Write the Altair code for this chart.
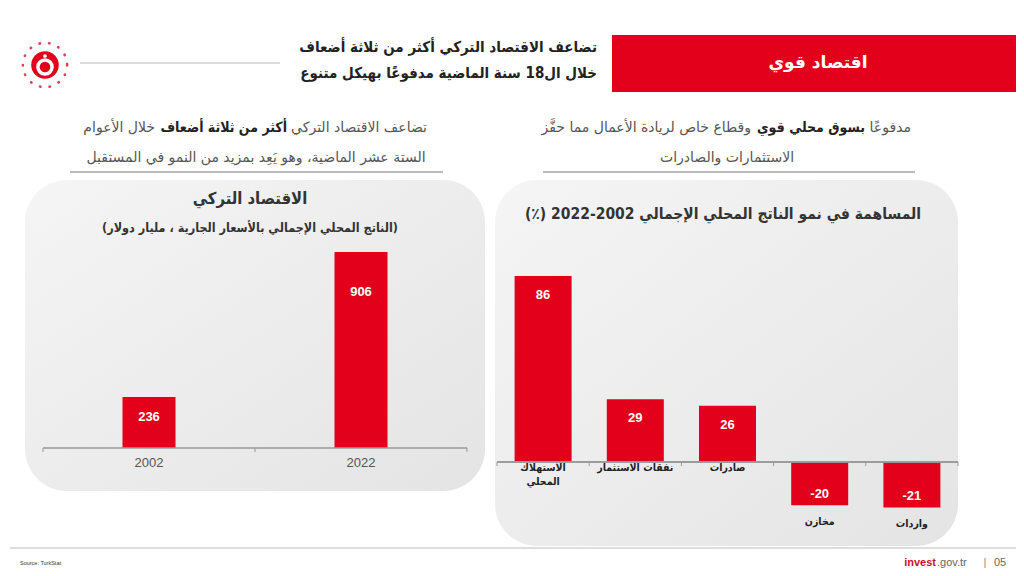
import altair as alt
import pandas as pd

# ---------------- data ----------------
years = ["2002", "2022"]
gdp = [236, 906]

components = ["الاستهلاك\nالمحلي", "نفقات الاستثمار", "صادرات", "مخازن", "واردات"]
contribution = [86, 29, 26, -20, -21]

# ---------------- style ----------------
RED = "#E2001A"
AR = "DejaVu Sans"
ARC = "DejaVu Sans Condensed"
LAT = "Liberation Sans"
W, H = 1008, 560
OX, OY = 8, 8


def P(x):
    return x - OX


def Q(y):
    return y - OY


def rtl(s):
    return "\u202B" + s + "\u202C"


one = pd.DataFrame({"k": [0]})
base = alt.Chart(one)


def rect(x1, y1, x2, y2, **kw):
    return base.mark_rect(**kw).encode(
        x=alt.value(P(x1)), x2=alt.value(P(x2)), y=alt.value(Q(y1)), y2=alt.value(Q(y2))
    )


def rule(x1, y1, x2, y2, **kw):
    return base.mark_rule(**kw).encode(
        x=alt.value(P(x1)), x2=alt.value(P(x2)), y=alt.value(Q(y1)), y2=alt.value(Q(y2))
    )


def text(s, x, y, **kw):
    return base.mark_text(text=s, **kw).encode(x=alt.value(P(x)), y=alt.value(Q(y)))


layers = []

# header
layers.append(rect(612, 35, 1030, 92, color=RED))
layers.append(text(rtl("اقتصاد قوي"), 818, 63, font=AR, fontSize=17, fontWeight="bold", color="white"))
layers.append(text(rtl("تضاعف الاقتصاد التركي أكثر من ثلاثة أضعاف"), 597, 47, align="right",
                   font=ARC, fontSize=15, fontWeight="bold", color="#222"))
layers.append(text(rtl("خلال ال18 سنة الماضية مدفوعًا بهيكل متنوع"), 597, 73, align="right",
                   font=ARC, fontSize=15, fontWeight="bold", color="#222"))
layers.append(rule(80, 63, 280, 63, color="#bbbbbb", strokeWidth=1.2))

# logo
layers.append(base.mark_point(shape="circle", filled=False, size=1960, stroke="#e04050",
                              strokeWidth=2.6, strokeDash=[0.5, 9.3], strokeCap="round", opacity=1)
              .encode(x=alt.value(P(45)), y=alt.value(Q(65))))
layers.append(base.mark_point(shape="circle", filled=True, size=760, color=RED, opacity=1)
              .encode(x=alt.value(P(45)), y=alt.value(Q(65))))
layers.append(base.mark_point(shape="circle", filled=False, size=200, stroke="white",
                              strokeWidth=3.5, opacity=1)
              .encode(x=alt.value(P(45)), y=alt.value(Q(67))))
layers.append(base.mark_point(shape="circle", filled=True, size=14, color="white", opacity=1)
              .encode(x=alt.value(P(45)), y=alt.value(Q(56))))

# subtitles left (pieces chained right-to-left)
layers.append(text(rtl("تضاعف الاقتصاد التركي"), 427, 128, align="right", font=AR, fontSize=14, color="#555"))
layers.append(text(rtl("أكثر من ثلاثة أضعاف"), 287, 128, align="right", font=ARC, fontSize=14,
                   fontWeight="bold", color="#222"))
layers.append(text(rtl("خلال الأعوام"), 155, 128, align="right", font=AR, fontSize=14, color="#555"))
layers.append(text(rtl("الستة عشر الماضية، وهو يَعِد بمزيد من النمو في المستقبل"), 256, 158,
                   font=AR, fontSize=14, color="#555"))
layers.append(rule(70, 172, 443, 172, color="#777", strokeWidth=1))

# subtitles right
layers.append(text(rtl("مدفوعًا"), 911, 128, align="right", font=AR, fontSize=14, color="#555"))
layers.append(text(rtl("بسوق محلي قوي"), 865, 128, align="right", font=ARC, fontSize=14,
                   fontWeight="bold", color="#222"))
layers.append(text(rtl("وقطاع خاص لريادة الأعمال مما حفَّز"), 751, 128, align="right", font=AR,
                   fontSize=14, color="#555"))
layers.append(text(rtl("الاستثمارات والصادرات"), 727, 158, font=AR, fontSize=14, color="#555"))
layers.append(rule(543, 172, 915, 172, color="#777", strokeWidth=1))

# panels
grad = alt.Gradient(
    gradient="linear",
    stops=[alt.GradientStop(color="#f5f5f5", offset=0), alt.GradientStop(color="#e4e4e4", offset=1)],
    x1=0, y1=0, x2=1, y2=1,
)
layers.append(rect(25, 180, 485, 491, cornerRadius=42, fill=grad))
layers.append(rect(495, 180, 958, 546, cornerRadius=42, fill=grad))

# panel titles
layers.append(text(rtl("الاقتصاد التركي"), 250, 199, font=ARC, fontSize=16.5, fontWeight="bold", color="#333"))
layers.append(text(rtl("(الناتج المحلي الإجمالي بالأسعار الجارية ، مليار دولار)"), 250, 228,
                   font=ARC, fontSize=12.5, fontWeight="bold", color="#333"))
layers.append(text(rtl("المساهمة في نمو الناتج المحلي الإجمالي 2002-2022 (٪)"), 723, 214,
                   font=ARC, fontSize=15.5, fontWeight="bold", color="#333"))

# ---------------- left chart ----------------
gdf = pd.DataFrame({"year": years, "v": gdp})
xl = alt.Scale(domain=years, range=[P(43), P(467)], paddingInner=0, paddingOuter=0)
yl = alt.Scale(domain=[0, 906], range=[Q(448), Q(252)], nice=False)
lc = alt.Chart(gdf)
XL = alt.X("year:N", scale=xl, axis=None)
YL = alt.Y("v:Q", scale=yl, axis=None)

layers.append(lc.mark_bar(size=53, color=RED).encode(x=XL, y=YL))
layers.append(lc.transform_filter("datum.v < 500").mark_text(dy=20, font=LAT, fontSize=13, fontWeight="bold",
                                                             color="white")
              .encode(x=XL, y=YL, text="v:Q"))
layers.append(lc.transform_filter("datum.v >= 500").mark_text(dy=40, font=LAT, fontSize=13, fontWeight="bold",
                                                              color="white")
              .encode(x=XL, y=YL, text="v:Q"))
layers.append(lc.transform_calculate(z="0").mark_rule(color="#999", strokeWidth=1.2)
              .encode(y=alt.Y("z:Q", scale=yl, axis=None), x=alt.value(P(43)), x2=alt.value(P(467))))
layers.append(lc.mark_rule(color="#999").encode(x=alt.X("year:N", scale=xl, axis=None, bandPosition=0),
                                                y=alt.value(Q(448)), y2=alt.value(Q(452))))
layers.append(rule(467, 448, 467, 452, color="#999"))
layers.append(lc.transform_calculate(z="0").mark_text(dy=15, font=LAT, fontSize=13, color="#555")
              .encode(x=XL, y=alt.Y("z:Q", scale=yl, axis=None), text="year:N"))

# ---------------- right chart ----------------
cdf = pd.DataFrame({"c": components, "v": contribution})
xr = alt.Scale(domain=components, range=[P(497), P(958)], paddingInner=0, paddingOuter=0)
yr = alt.Scale(domain=[0, 86], range=[Q(462), Q(276)], nice=False)
rc = alt.Chart(cdf).transform_calculate(lbl="'' + datum.v")
XR = alt.X("c:N", scale=xr, axis=None, sort=components)
YR = alt.Y("v:Q", scale=yr, axis=None)

layers.append(rc.mark_bar(size=57, color=RED).encode(x=XR, y=YR))
layers.append(rc.transform_filter("datum.v > 0").mark_text(dy=19, font=LAT, fontSize=13, fontWeight="bold",
                                                           color="white")
              .encode(x=XR, y=YR, text="lbl:N"))
layers.append(rc.transform_filter("datum.v < 0").mark_text(dy=-11, font=LAT, fontSize=13, fontWeight="bold",
                                                           color="white")
              .encode(x=XR, y=YR, text="lbl:N"))
layers.append(rc.transform_calculate(z="0").mark_rule(color="#999", strokeWidth=1.2)
              .encode(y=alt.Y("z:Q", scale=yr, axis=None), x=alt.value(P(497)), x2=alt.value(P(958))))
layers.append(rc.mark_rule(color="#999").encode(x=alt.X("c:N", scale=xr, axis=None, sort=components,
                                                        bandPosition=0),
                                                y=alt.value(Q(462)), y2=alt.value(Q(466))))
layers.append(rule(958, 462, 958, 466, color="#999"))
layers.append(rc.transform_filter("datum.v > 0").transform_calculate(z="0")
              .mark_text(dy=1, baseline="top", lineBreak="\n", lineHeight=14, font=ARC, fontSize=10.5,
                         fontWeight="bold", color="#222")
              .encode(x=XR, y=alt.Y("z:Q", scale=yr, axis=None), text="c:N"))
layers.append(rc.transform_filter("datum.v < 0")
              .mark_text(dy=17, font=ARC, fontSize=10.5, fontWeight="bold", color="#222")
              .encode(x=XR, y=YR, text="c:N"))

# ---------------- footer ----------------
layers.append(rule(10, 548, 1016, 548, color="#dddddd", strokeWidth=2))
layers.append(text("Source: TurkStat", 20, 563, align="left", font=LAT, fontSize=5.5, color="#333"))
layers.append(text("invest", 936, 563, align="right", font=LAT, fontSize=11, fontWeight="bold", color="#C8102E"))
layers.append(text(".gov.tr", 937, 563, align="left", font=LAT, fontSize=11, color="#666"))
layers.append(text("|", 985, 563, font=LAT, fontSize=11, color="#888"))
layers.append(text("05", 1000, 563, font=LAT, fontSize=11, color="#666"))

chart = (
    alt.layer(*layers)
    .resolve_scale(x="independent", y="independent")
    .properties(width=W, height=H, autosize="none", padding=0, background="white")
    .configure_view(stroke=None)
)

chart.save("out.html", embed_options={"renderer": "svg", "actions": False})
